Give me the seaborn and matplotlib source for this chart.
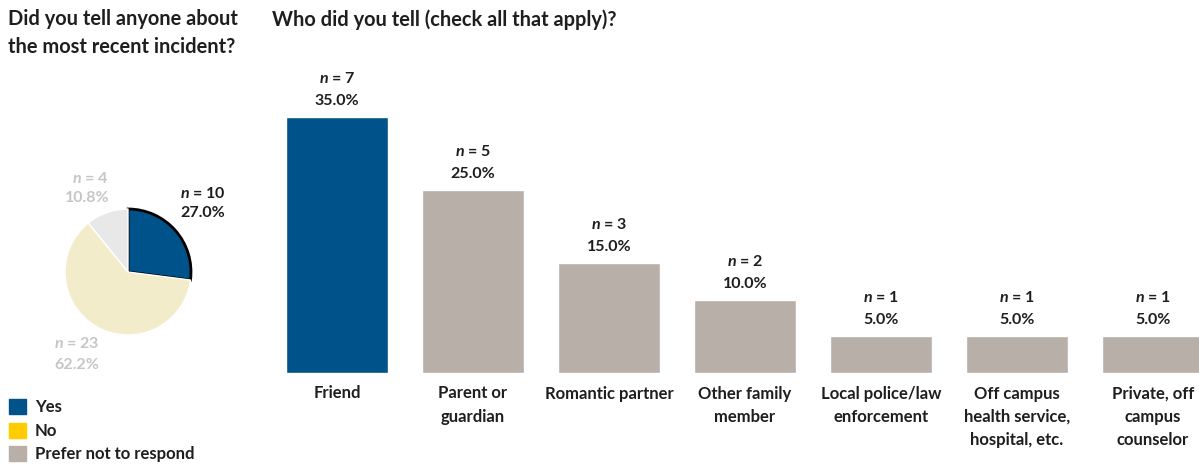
import matplotlib
matplotlib.use("Agg")
import matplotlib.pyplot as plt
import seaborn as sns
from matplotlib.patches import Patch

# pie data
pie_labels = ["Yes", "No", "Prefer not to respond"]
pie_counts = [10, 23, 4]
pie_pcts = [27.0, 62.2, 10.8]

# bar data
categories = ["Friend", "Parent or\nguardian", "Romantic partner", "Other family\nmember",
              "Local police/law\nenforcement", "Off campus\nhealth service,\nhospital, etc.",
              "Private, off\ncampus\ncounselor"]
bar_counts = [7, 5, 3, 2, 1, 1, 1]
bar_pcts = [35.0, 25.0, 15.0, 10.0, 5.0, 5.0, 5.0]

BLUE = "#00538a"
TAUPE = "#b8afa9"
DARK = "#1e1e1e"

sns.set_theme(style="white")
plt.rcParams['font.family'] = ['Lato', 'DejaVu Sans']
plt.rcParams['mathtext.fontset'] = 'custom'
plt.rcParams['mathtext.it'] = 'Lato:italic:bold'
plt.rcParams['mathtext.rm'] = 'Lato:bold'

W, H = 1199, 466
fig = plt.figure(figsize=(W / 100, H / 100), dpi=100)

# ---- bar chart ----
left = 286 / W
ax = fig.add_axes([left, (H - 373) / H, (W - 286) / W, 292.4 / H])
bar_colors = [BLUE] + [TAUPE] * (len(categories) - 1)
sns.barplot(x=categories, y=bar_pcts, hue=categories, palette=bar_colors,
            legend=False, width=0.75, saturation=1, ax=ax)
ax.set_xlim(-0.375, -0.375 + 913 / 136)
ax.set_ylim(0, 40)
ax.set_yticks([])
ax.set_ylabel("")
sns.despine(ax=ax, left=True, bottom=True)
ax.tick_params(axis='x', length=0, pad=9)
for lbl in ax.get_xticklabels():
    lbl.set_fontsize(12)
    lbl.set_fontweight('bold')
    lbl.set_color(DARK)
    lbl.set_linespacing(1.55)
    lbl.set_va('top')

for i, (n, p) in enumerate(zip(bar_counts, bar_pcts)):
    ax.annotate(f"{p:.1f}%", (i, p), xytext=(0, 11.5), textcoords="offset points",
                ha="center", va="center", fontsize=11.5, fontweight="bold", color=DARK)
    ax.annotate(rf"$\mathit{{n}}$ = {n}", (i, p), xytext=(0, 28), textcoords="offset points",
                ha="center", va="center", fontsize=11.5, fontweight="bold", color=DARK)

# ---- pie chart ----
r_px = 63
half = 100
pax = fig.add_axes([(128 - half) / W, (H - 272 - half) / H, 2 * half / W, 2 * half / H])
wedges, _ = pax.pie(pie_counts, colors=[BLUE, "#f3ecca", "#e8e8e8"], startangle=90,
                    counterclock=False)
wedges[0].set_edgecolor("black")
wedges[0].set_linewidth(2)
lim = half / r_px
pax.set_xlim(-lim, lim)
pax.set_ylim(-lim, lim)
pax.set_aspect("equal")
pax.axis("off")

pie_text = [(0.83, 1.25, 0.94, "left", DARK),
            (-1.17, -1.13, -1.48, "left", "#c6c6c6"),
            (-0.3, 1.49, 1.17, "right", "#c6c6c6")]
for (x, y1, y2, ha, c), n, p in zip(pie_text, pie_counts, pie_pcts):
    pax.text(x, y1, rf"$\mathit{{n}}$ = {n}", ha=ha, va="center", fontsize=11.5,
             fontweight="bold", color=c, clip_on=False)
    pax.text(x, y2, f"{p:.1f}%", ha=ha, va="center", fontsize=11.5,
             fontweight="bold", color=c, clip_on=False)

# legend
handles = [Patch(color=c) for c in [BLUE, "#ffcc00", TAUPE]]
fig.legend(handles, pie_labels, loc="upper left", bbox_to_anchor=(-0.005, 1 - 384 / H),
           frameon=False, handlelength=1.0, handleheight=1.0, handletextpad=0.55,
           labelspacing=0.45, prop={"size": 12, "weight": "bold"}, labelcolor=DARK)

# titles
fig.text(8 / W, 1 - 9 / H, "Did you tell anyone about\nthe most recent incident?",
         ha="left", va="top", fontsize=14.4, fontweight="bold", color=DARK, linespacing=1.5)
fig.text(272 / W, 1 - 9 / H, "Who did you tell (check all that apply)?",
         ha="left", va="top", fontsize=14.4, fontweight="bold", color=DARK)

fig.savefig("out.png", dpi=100)
